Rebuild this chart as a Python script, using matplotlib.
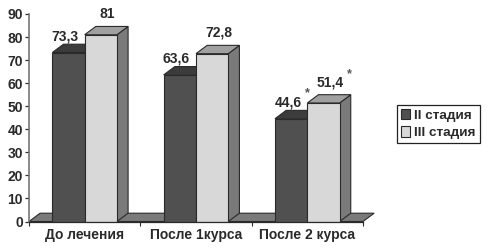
import matplotlib
matplotlib.use('Agg')
import matplotlib.pyplot as plt
from matplotlib.patches import Polygon

plt.rcParams['font.family'] = ['Liberation Sans', 'DejaVu Sans']
plt.rcParams['font.weight'] = 'bold'

groups = ['До лечения', 'После 1курса', 'После 2 курса']
stage2 = [73.3, 63.6, 44.6]
stage3 = [81, 72.8, 51.4]
labels2 = ['73,3', '63,6', '44,6']
labels3 = ['81', '72,8', '51,4']
series_names = ['II стадия', 'III стадия']
yticks = [0, 10, 20, 30, 40, 50, 60, 70, 80, 90]

W, H = 487, 250
DARK = '#505050'
LIGHT = '#d8d8d8'
SIDE = '#7a7a7a'
TOP_LIGHT = '#a0a0a0'
TOP_DARK = '#3c3c3c'
EDGE = '#2a2a2a'
TEXT = '#2a2a2a'
FS = 10

fig = plt.figure(figsize=(W / 100, H / 100), dpi=100)
ax = fig.add_axes([29 / W, 1 - 221.5 / H, 334 / W, 207.5 / H])
ax.set_xlim(0, 3)
ax.set_ylim(0, 90)

bw = 0.29
dx = 0.1   # depth of the fake 3d, in data units
dy = 3.6


def box3d(x, h, color, top):
    # side and top faces, the front comes from ax.bar
    ax.add_patch(Polygon([(x + bw, 0), (x + bw + dx, dy), (x + bw + dx, h + dy), (x + bw, h)],
                         facecolor=SIDE, edgecolor=EDGE, lw=0.8, clip_on=False, zorder=3))
    ax.add_patch(Polygon([(x, h), (x + dx, h + dy), (x + bw + dx, h + dy), (x + bw, h)],
                         facecolor=top, edgecolor=EDGE, lw=0.8, clip_on=False, zorder=3))


# floor
ax.add_patch(Polygon([(0, 0), (dx, dy), (3 + dx, dy), (3, 0)], facecolor=SIDE,
                     edgecolor=EDGE, lw=0.8, clip_on=False, zorder=1))

for i in range(3):
    c = i + 0.5
    box3d(c - bw, stage2[i], DARK, TOP_DARK)
    box3d(c, stage3[i], LIGHT, TOP_LIGHT)
b2 = ax.bar([i + 0.5 - bw / 2 for i in range(3)], stage2, bw, color=DARK, edgecolor=EDGE,
            lw=0.8, zorder=4, label=series_names[0])
b3 = ax.bar([i + 0.5 + bw / 2 for i in range(3)], stage3, bw, color=LIGHT, edgecolor=EDGE,
            lw=0.8, zorder=4, label=series_names[1])

for i in range(3):
    ax.text(i + 0.5 - bw / 2 - 0.03, stage2[i] + dy + 0.3, labels2[i], ha='center', va='bottom',
            fontsize=FS, color=TEXT, zorder=7)
    ax.text(i + 0.5 + bw / 2 + 0.06, stage3[i] + dy + 2.4, labels3[i], ha='center', va='bottom',
            fontsize=FS, color=TEXT, zorder=7)

# significance marks on the last group
ax.text(2.5 - bw / 2 + 0.145, stage2[2] + dy + 5.0, '*', ha='center', va='bottom', fontsize=9,
        color='#555555', zorder=7)
ax.text(2.5 + bw / 2 + 0.235, stage3[2] + dy + 6.5, '*', ha='center', va='bottom', fontsize=9,
        color='#555555', zorder=7)

for s in ['top', 'right']:
    ax.spines[s].set_visible(False)
ax.spines['left'].set_color('#777777')
ax.spines['left'].set_linewidth(1.2)
ax.spines['bottom'].set_color(EDGE)
ax.spines['bottom'].set_linewidth(0.9)
ax.spines['bottom'].set_zorder(6)

ax.set_yticks(yticks)
ax.set_xticks([0, 1, 2, 3])
ax.set_xticklabels([])
ax.set_xticks([0.5, 1.5, 2.5], groups, minor=True)
ax.tick_params(axis='y', labelsize=FS, length=3, width=0.9, pad=1.5, colors=TEXT)
ax.tick_params(axis='x', which='major', length=3, width=0.8, direction='out', color=EDGE)
ax.tick_params(axis='x', which='minor', length=0, labelsize=FS, pad=5, labelcolor=TEXT)

leg = fig.legend([b2, b3], series_names, loc='upper left', bbox_to_anchor=(397 / W, 1 - 105 / H),
                 borderaxespad=0, fontsize=9.7, frameon=True, fancybox=False, edgecolor='#222222',
                 framealpha=1, handlelength=0.7, handleheight=0.8, handletextpad=0.3,
                 borderpad=0.28, labelspacing=0.35)
leg.get_frame().set_linewidth(0.9)
for t in leg.get_texts():
    t.set_color(TEXT)

fig.savefig('out.png', dpi=100)
